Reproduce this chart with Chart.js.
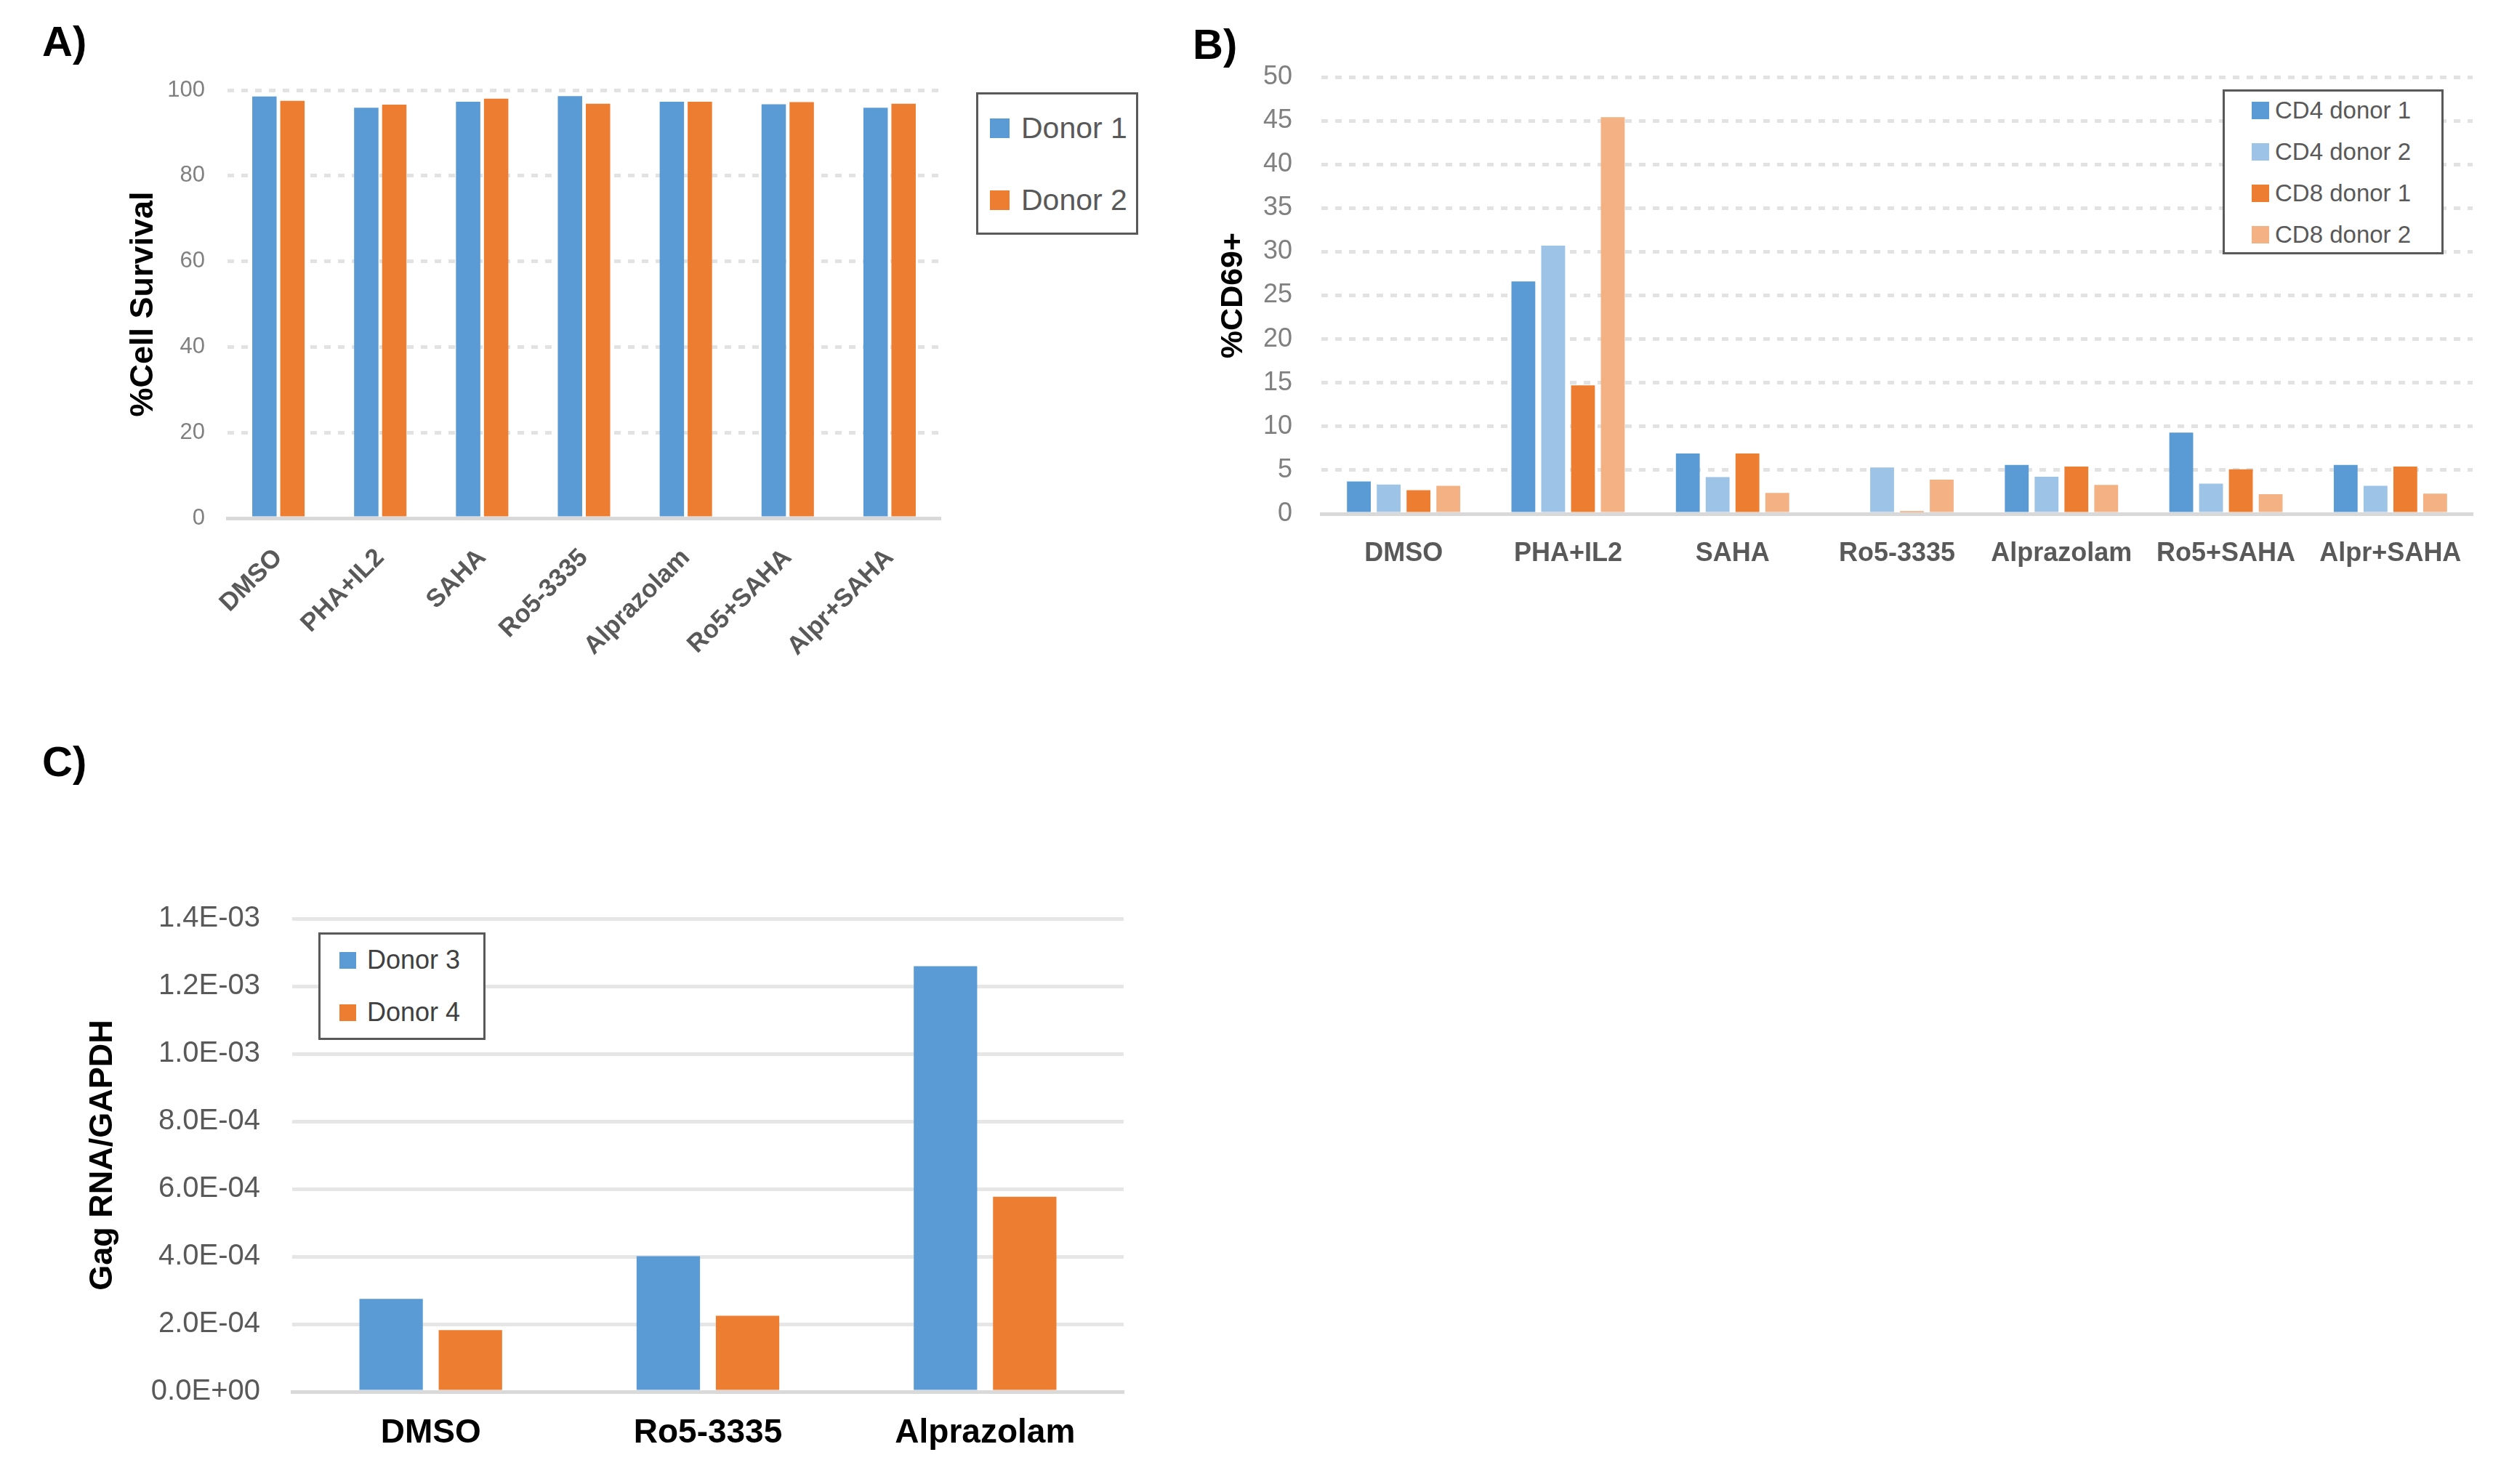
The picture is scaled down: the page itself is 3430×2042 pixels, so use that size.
<!DOCTYPE html>
<html>
<head>
<meta charset="utf-8">
<script src="https://cdn.jsdelivr.net/npm/chart.js@4.4.1/dist/chart.umd.min.js"></script>
<style>
  html, body { margin: 0; padding: 0; background: #fff; }
  body { position: relative; width: 3430px; height: 2042px; overflow: hidden;
         font-family: 'Liberation Sans', Arial, sans-serif; }
  canvas { position: absolute; }
  .tag { position: absolute; font-weight: bold; font-size: 58px; line-height: 1; color: #000; }
  .legend { position: absolute; box-sizing: border-box; background: #fff; border: 3px solid #595959; }
  .legend .row { position: absolute; display: flex; align-items: center; white-space: nowrap; }
  .legend .sw { display: inline-block; flex: none; }
</style>
</head>
<body>

<div class="tag" style="left:58px; top:28px">A)</div>
<div class="tag" style="left:1641px; top:32px">B)</div>
<div class="tag" style="left:58px; top:1019px">C)</div>

<canvas id="cA" width="1330" height="1000" style="left:0; top:0; width:1330px; height:1000px"></canvas>
<canvas id="cB" width="1830" height="900" style="left:1600px; top:0; width:1830px; height:900px"></canvas>
<canvas id="cC" width="1600" height="1042" style="left:0; top:1000px; width:1600px; height:1042px"></canvas>

<div id="legA" class="legend" style="left:1343px; top:127px; width:223px; height:196px"></div>
<div id="legB" class="legend" style="left:3058px; top:123px; width:304px; height:227px"></div>
<div id="legC" class="legend" style="left:438px; top:1283px; width:230px; height:148px"></div>

<script>
// ---- panel A: cell survival ----
const catsA = ["DMSO", "PHA+IL2", "SAHA", "Ro5-3335", "Alprazolam", "Ro5+SAHA", "Alpr+SAHA"];
const namesA = ["Donor 1", "Donor 2"];
const donor1A = [98.5, 95.9, 97.3, 98.6, 97.3, 96.7, 95.9];
const donor2A = [97.5, 96.6, 98.0, 96.8, 97.3, 97.2, 96.8];
const ticksA = { min: 0, max: 100, step: 20 };

// ---- panel B: %CD69+ ----
const catsB = ["DMSO", "PHA+IL2", "SAHA", "Ro5-3335", "Alprazolam", "Ro5+SAHA", "Alpr+SAHA"];
const namesB = ["CD4 donor 1", "CD4 donor 2", "CD8 donor 1", "CD8 donor 2"];
const cd4d1B = [3.7, 26.6, 6.9, null, 5.6, 9.3, 5.6];
const cd4d2B = [3.35, 30.7, 4.2, 5.3, 4.25, 3.45, 3.2];
const cd8d1B = [2.7, 14.7, 6.9, 0.3, 5.4, 5.1, 5.4];
const cd8d2B = [3.2, 45.4, 2.4, 3.9, 3.3, 2.25, 2.3];
const ticksB = { min: 0, max: 50, step: 5 };

// ---- panel C: Gag RNA / GAPDH ----
const catsC = ["DMSO", "Ro5-3335", "Alprazolam"];
const namesC = ["Donor 3", "Donor 4"];
const donor3C = [2.75e-4, 4.01e-4, 1.259e-3];
const donor4C = [1.82e-4, 2.25e-4, 5.77e-4];
const ticksC = { min: 0, max: 1.4e-3, step: 2e-4 };

const BLUE = "#5B9BD5", LBLUE = "#9DC3E6", ORANGE = "#ED7D31", LORANGE = "#F4B183";
const REG = "'Liberation Sans', Arial, sans-serif";

function $(id){ return document.getElementById(id); }

function sci(v){
  // 0.0004 -> 4.0E-04 (Excel style)
  if (v === 0) return "0.0E+00";
  const [m, e] = Number(v).toExponential(1).split("e");
  const n = parseInt(e, 10);
  return m + "E" + (n < 0 ? "-" : "+") + String(Math.abs(n)).padStart(2, "0");
}

function buildLegend(id, names, colors, c){
  const box = $(id);
  names.forEach((name, i) => {
    const rowH = Math.round(c.font * 1.3);
    const row = document.createElement("div");
    row.className = "row";
    row.style.left = c.swLeft + "px";
    row.style.top = (c.first + i * c.step - rowH / 2) + "px";
    row.style.height = rowH + "px";
    const sw = document.createElement("span");
    sw.className = "sw";
    sw.style.width = c.sw + "px";
    sw.style.height = c.sw + "px";
    sw.style.background = colors[i];
    sw.style.marginRight = c.gap + "px";
    const t = document.createElement("span");
    t.textContent = name;
    t.style.fontSize = c.font + "px";
    t.style.color = c.color;
    row.appendChild(sw);
    row.appendChild(t);
    box.appendChild(row);
  });
}

// L = canvas x where the y-axis box starts, area = chart area edges in canvas coords
function makeBar(id, cats, series, names, colors, L, area, canvasW, canvasH, ax){
  const datasets = series.map((d, i) => ({
    label: names[i],
    data: d,
    backgroundColor: colors[i],
    borderWidth: 0,
    categoryPercentage: ax.catPct,
    barPercentage: ax.barPct
  }));
  return new Chart($(id).getContext("2d"), {
    type: "bar",
    data: { labels: cats, datasets },
    options: {
      responsive: false,
      animation: false,
      devicePixelRatio: 1,
      layout: { padding: { left: L, top: area.top, right: canvasW - area.right, bottom: 0 } },
      plugins: { legend: { display: false }, tooltip: { enabled: false } },
      scales: {
        x: {
          grid: { display: true, drawOnChartArea: false, drawTicks: false },
          border: { display: true, color: "#d9d9d9", width: 5 },
          ticks: {
            autoSkip: false,
            minRotation: ax.rot, maxRotation: ax.rot,
            padding: ax.xPad,
            color: ax.xColor,
            font: { family: REG, size: ax.xSize, weight: "bold" }
          },
          afterFit: (s) => { s.height = canvasH - area.bottom; }
        },
        y: {
          min: ax.ticks.min, max: ax.ticks.max,
          grid: {
            drawTicks: false,
            lineWidth: ax.gridW,
            color: (c) => c.tick && c.tick.value === 0 ? "rgba(0,0,0,0)" : ax.gridColor
          },
          border: { display: false, dash: ax.dash },
          ticks: {
            stepSize: ax.ticks.step,
            padding: ax.yPad,
            color: ax.yColor,
            font: { family: REG, size: ax.ySize },
            callback: ax.fmt
          },
          title: {
            display: true,
            text: ax.title,
            color: "#000",
            padding: { top: 0, bottom: 0 },
            font: { family: REG, size: ax.titleSize, weight: "bold" }
          },
          afterFit: (s) => { s.width = area.left - L; }
        }
      }
    }
  });
}

window.addEventListener("DOMContentLoaded", () => {
  Chart.defaults.font.family = REG;

  makeBar("cA", catsA, [donor1A, donor2A], namesA, [BLUE, ORANGE],
    171, { left: 313, right: 1294, top: 124, bottom: 713 }, 1330, 1000, {
      catPct: 0.55, barPct: 0.87, rot: 45, xPad: 34, xColor: "#595959", xSize: 35,
      ticks: ticksA, gridW: 5, gridColor: "#e2e2e2", dash: [9, 10],
      yPad: 31, yColor: "#808080", ySize: 31, fmt: (v) => v,
      title: "%Cell Survival", titleSize: 45
    });

  makeBar("cB", catsB, [cd4d1B, cd4d2B, cd8d1B, cd8d2B], namesB, [BLUE, LBLUE, ORANGE, LORANGE],
    71, { left: 218, right: 1802, top: 106, bottom: 707 }, 1830, 900, {
      catPct: 0.725, barPct: 0.80, rot: 0, xPad: 33, xColor: "#595959", xSize: 36,
      ticks: ticksB, gridW: 5, gridColor: "#e2e2e2", dash: [9, 10],
      yPad: 40, yColor: "#808080", ySize: 36, fmt: (v) => v,
      title: "%CD69+", titleSize: 43
    });

  makeBar("cC", catsC, [donor3C, donor4C], namesC, [BLUE, ORANGE],
    115, { left: 402, right: 1546, top: 264, bottom: 915 }, 1600, 1042, {
      catPct: 0.572, barPct: 0.80, rot: 0, xPad: 30, xColor: "#000", xSize: 46,
      ticks: ticksC, gridW: 5, gridColor: "#e6e6e6", dash: [],
      yPad: 44, yColor: "#595959", ySize: 40, fmt: sci,
      title: "Gag RNA/GAPDH", titleSize: 45
    });

  buildLegend("legA", namesA, [BLUE, ORANGE],
    { first: 46, step: 99, swLeft: 16, sw: 27, gap: 16, font: 41, color: "#595959" });
  buildLegend("legB", namesB, [BLUE, LBLUE, ORANGE, LORANGE],
    { first: 26, step: 57, swLeft: 37, sw: 24, gap: 8, font: 33, color: "#595959" });
  buildLegend("legC", namesC, [BLUE, ORANGE],
    { first: 35, step: 72, swLeft: 26, sw: 23, gap: 15, font: 36, color: "#404040" });
});
</script>
</body>
</html>
